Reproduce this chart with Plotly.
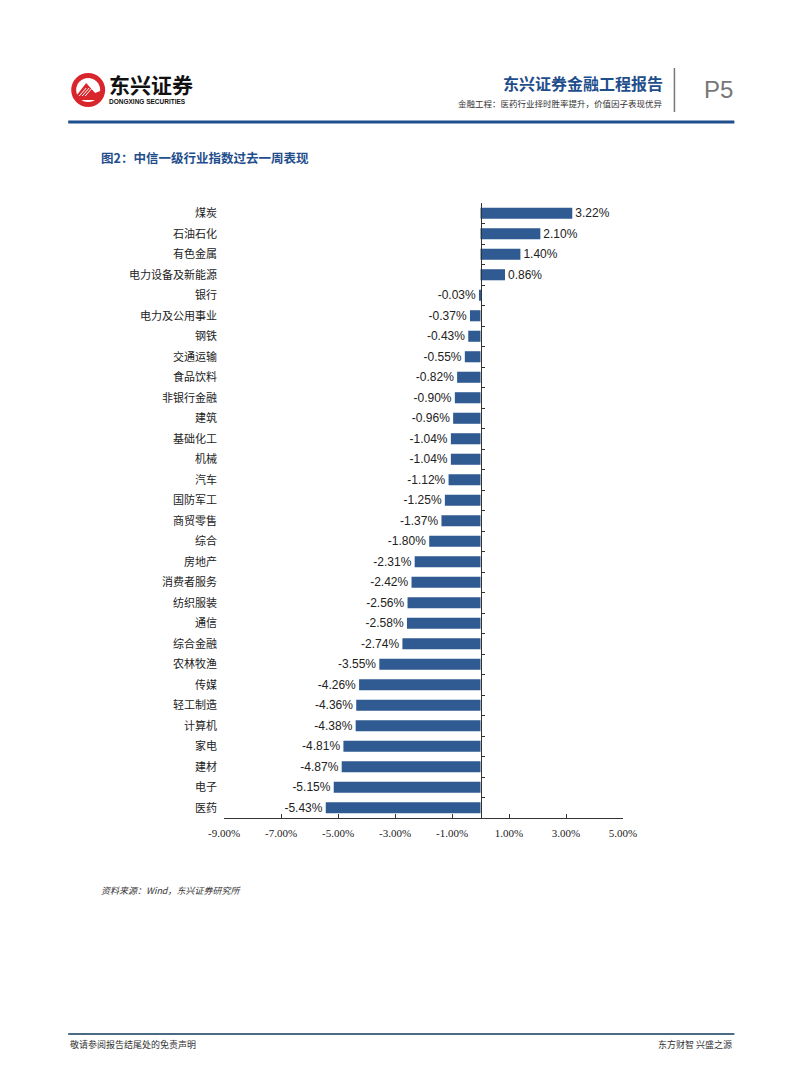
import plotly.graph_objects as go

categories = ["煤炭", "石油石化", "有色金属", "电力设备及新能源", "银行", "电力及公用事业", "钢铁",
              "交通运输", "食品饮料", "非银行金融", "建筑", "基础化工", "机械", "汽车", "国防军工",
              "商贸零售", "综合", "房地产", "消费者服务", "纺织服装", "通信", "综合金融", "农林牧渔",
              "传媒", "轻工制造", "计算机", "家电", "建材", "电子", "医药"]
values = [3.22, 2.10, 1.40, 0.86, -0.03, -0.37, -0.43, -0.55, -0.82, -0.90, -0.96, -1.04, -1.04,
          -1.12, -1.25, -1.37, -1.80, -2.31, -2.42, -2.56, -2.58, -2.74, -3.55, -4.26, -4.36,
          -4.38, -4.81, -4.87, -5.15, -5.43]
x_ticks = [-9, -7, -5, -3, -1, 1, 3, 5]
x_tick_labels = ["-9.00%", "-7.00%", "-5.00%", "-3.00%", "-1.00%", "1.00%", "3.00%", "5.00%"]
x_range = [-9, 5]

W, H = 802, 1086
L, R, T, B = 224, 178.5, 203, 268
PW, PH = W - L - R, H - T - B


def px(x):
    return (x - L) / PW


def py(y):
    return 1 - (y - T) / PH


BAR = "#2F5A92"
NAVY = "#1F4E8C"

fig = go.Figure()
fig.add_trace(go.Bar(
    x=values, y=categories, orientation="h", marker=dict(color=BAR, line=dict(width=0)),
    width=0.54, text=[f"{v:.2f}%" for v in values], textposition="outside",
    constraintext="none",
    textfont=dict(family="Liberation Sans, Arial", size=12, color="#222"),
    cliponaxis=False, hoverinfo="skip", showlegend=False,
))
fig.add_trace(go.Bar(
    x=values, y=categories, orientation="h", yaxis="y2", opacity=0,
    hoverinfo="skip", showlegend=False, width=0.54,
))

zero_pos = (0 - x_range[0]) / (x_range[1] - x_range[0])

fig.update_layout(
    width=W, height=H, margin=dict(l=L, r=R, t=T, b=B),
    paper_bgcolor="white", plot_bgcolor="white", barmode="overlay",
    xaxis=dict(range=x_range, tickvals=x_ticks, ticktext=x_tick_labels, showgrid=False,
               zeroline=False, showline=True, linecolor="#333", linewidth=1,
               ticks="inside", ticklen=4, tickcolor="#333", ticklabelstandoff=5,
               tickfont=dict(family="Liberation Serif, Times New Roman", size=11, color="#222")),
    yaxis=dict(categoryorder="array", categoryarray=categories, autorange="reversed",
               showline=False, showgrid=False, zeroline=False, ticks="", ticklabelstandoff=6,
               tickfont=dict(family="Noto Sans CJK SC", size=11, color="#222")),
    yaxis2=dict(overlaying="y", anchor="free", position=zero_pos, side="left",
                categoryorder="array", categoryarray=categories, autorange="reversed",
                showline=True, linecolor="#333", linewidth=1, showgrid=False, zeroline=False,
                showticklabels=False, ticks="inside", tickson="boundaries", ticklen=3,
                tickcolor="#333"),
)

shapes = []
shapes.append(dict(type="line", xref="paper", yref="paper", x0=px(68), x1=px(735), y0=py(122), y1=py(122),
                   line=dict(color=NAVY, width=3)))
shapes.append(dict(type="line", xref="paper", yref="paper", x0=px(675), x1=px(675), y0=py(68), y1=py(112),
                   line=dict(color="#777", width=1.5)))
shapes.append(dict(type="line", xref="paper", yref="paper", x0=px(68), x1=px(735), y0=py(1034), y1=py(1034),
                   line=dict(color="#4B6B85", width=2)))
shapes.append(dict(type="circle", xref="paper", yref="paper", x0=px(71), x1=px(105), y0=py(73), y1=py(107),
                   fillcolor="#D9262C", line=dict(width=0)))
shapes.append(dict(type="circle", xref="paper", yref="paper", x0=px(76), x1=px(100), y0=py(78), y1=py(102),
                   fillcolor="white", line=dict(width=0)))
shapes.append(dict(type="path", xref="paper", yref="paper",
                   path=f"M {px(76)} {py(96)} L {px(86)} {py(83)} L {px(95)} {py(93)} L {px(100)} {py(91)} "
                        f"L {px(100)} {py(100)} L {px(76)} {py(100)} Z",
                   fillcolor="#D9262C", line=dict(width=0)))
for i in range(3):
    shapes.append(dict(type="line", xref="paper", yref="paper",
                       x0=px(79 + i * 3), y0=py(96), x1=px(86 + i * 3), y1=py(88),
                       line=dict(color="white", width=1)))
fig.update_layout(shapes=shapes)

ann = []
ann.append(dict(text="<b>东兴证券</b>", x=px(107), y=py(84), xanchor="left", yanchor="middle",
                font=dict(family="Noto Sans CJK SC", size=21, color="#111")))
ann.append(dict(text="<b>DONGXING SECURITIES</b>", x=px(107), y=py(101), xanchor="left", yanchor="middle",
                font=dict(family="Liberation Sans", size=6.5, color="#111")))
ann.append(dict(text="<b>东兴证券金融工程报告</b>", x=px(666), y=py(83), xanchor="right", yanchor="middle",
                font=dict(family="Noto Sans CJK SC", size=16, color=NAVY)))
ann.append(dict(text="金融工程：医药行业择时胜率提升，价值因子表现优异", x=px(666), y=py(103), xanchor="right",
                yanchor="middle", font=dict(family="Noto Sans CJK SC", size=8.5, color="#333")))
ann.append(dict(text="P5", x=px(719), y=py(90), xanchor="center", yanchor="middle",
                font=dict(family="Liberation Sans", size=24, color="#777")))
ann.append(dict(text="<b>图2：中信一级行业指数过去一周表现</b>", x=px(99), y=py(157), xanchor="left",
                yanchor="middle", font=dict(family="Noto Sans CJK SC", size=12.5, color=NAVY)))
ann.append(dict(text="<i>资料来源：Wind，东兴证券研究所</i>", x=px(99), y=py(890), xanchor="left",
                yanchor="middle", font=dict(family="Noto Sans CJK SC", size=9, color="#333")))
ann.append(dict(text="敬请参阅报告结尾处的免责声明", x=px(68), y=py(1044), xanchor="left", yanchor="middle",
                font=dict(family="Noto Sans CJK SC", size=9, color="#333")))
ann.append(dict(text="东方财智 兴盛之源", x=px(735), y=py(1044), xanchor="right", yanchor="middle",
                font=dict(family="Noto Sans CJK SC", size=9, color="#333")))
for a in ann:
    a.update(xref="paper", yref="paper", showarrow=False)
fig.update_layout(annotations=ann)

fig.write_html("out.html")
